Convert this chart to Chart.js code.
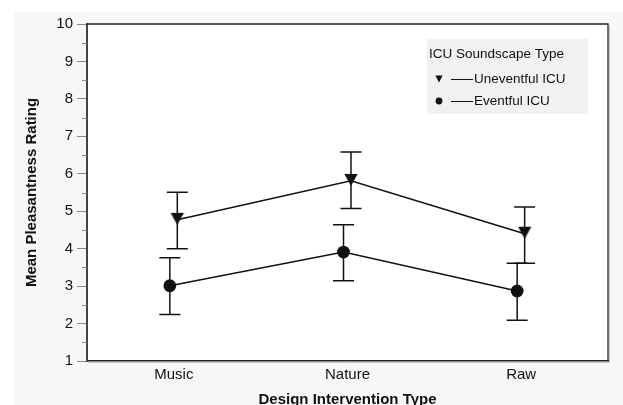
<!DOCTYPE html>
<html>
<head>
<meta charset="utf-8">
<script src="https://cdn.jsdelivr.net/npm/chart.js@4/dist/chart.umd.min.js"></script>
<style>
  html, body { margin: 0; padding: 0; background: #ffffff; overflow: hidden; }
  canvas { display: block; }
</style>
</head>
<body>
<canvas id="chart" width="623" height="405"></canvas>
<script>
// Design intervention categories (x axis)
const categories = ['Music', 'Nature', 'Raw'];

// Uneventful ICU soundscape: means and error-bar limits
const uneventfulMean = [4.77, 5.81, 4.40];
const uneventfulLow  = [4.00, 5.07, 3.61];
const uneventfulHigh = [5.51, 6.58, 5.11];

// Eventful ICU soundscape: means and error-bar limits
const eventfulMean = [3.01, 3.91, 2.87];
const eventfulLow  = [2.24, 3.14, 2.09];
const eventfulHigh = [3.76, 4.64, 3.61];

// Labelled y ticks
const yTickValues = [1, 2, 3, 4, 5, 6, 7, 8, 9, 10];

const FONT = "'Liberation Sans', Arial, Helvetica, sans-serif";
const INK = '#111111';

// Small horizontal dodge so the two series' error bars do not overlap
function toPoints(means, lows, highs, dodge) {
  return means.map((m, i) => ({ x: i + 1 + dodge, y: m, low: lows[i], high: highs[i] }));
}

// Downward triangle marker, flat edge above the data point
function makeTriangle(size, halfWidth, topOffset, apexOffset) {
  const c = document.createElement('canvas');
  c.width = size; c.height = size;
  const g = c.getContext('2d');
  const m = size / 2;
  g.fillStyle = INK;
  g.beginPath();
  g.moveTo(m - halfWidth, m - topOffset);
  g.lineTo(m + halfWidth, m - topOffset);
  g.lineTo(m, m + apexOffset);
  g.closePath();
  g.fill();
  return c;
}
const triangleDown = makeTriangle(16, 6.7, 7, 5);

// Page background, white plot panel
const backdrop = {
  id: 'backdrop',
  beforeDraw(chart) {
    const { ctx, chartArea: a, width, height } = chart;
    ctx.save();
    ctx.fillStyle = '#ffffff';
    ctx.fillRect(0, 0, width, height);
    ctx.fillStyle = '#f7f7f7';
    ctx.fillRect(14, 12, width - 14, height - 12);
    ctx.fillStyle = '#ffffff';
    ctx.fillRect(a.left, a.top, a.right - a.left, a.bottom - a.top);
    ctx.restore();
  }
};

// Vertical error bars with caps, drawn from each point's low/high values
const errorBars = {
  id: 'errorBars',
  beforeDatasetsDraw(chart) {
    const { ctx, scales: { x, y } } = chart;
    ctx.save();
    ctx.strokeStyle = INK;
    ctx.lineWidth = 1.5;
    chart.data.datasets.forEach(ds => {
      ds.data.forEach(p => {
        const px = x.getPixelForValue(p.x);
        const yl = y.getPixelForValue(p.low);
        const yh = y.getPixelForValue(p.high);
        const cap = 10.5;
        ctx.beginPath();
        ctx.moveTo(px, yl); ctx.lineTo(px, yh);
        ctx.moveTo(px - cap, yl); ctx.lineTo(px + cap, yl);
        ctx.moveTo(px - cap, yh); ctx.lineTo(px + cap, yh);
        ctx.stroke();
      });
    });
    ctx.restore();
  }
};

// Minor half-step ticks on the y axis and the closed frame around the plot
const frame = {
  id: 'frame',
  afterDraw(chart) {
    const { ctx, chartArea: a, scales: { y } } = chart;
    ctx.save();
    ctx.strokeStyle = '#8a8a8a';
    ctx.lineWidth = 1;
    for (let v = y.min + 0.5; v < y.max; v += 1) {
      const py = Math.round(y.getPixelForValue(v)) + 0.5;
      ctx.beginPath();
      ctx.moveTo(a.left - 5, py);
      ctx.lineTo(a.left, py);
      ctx.stroke();
    }
    // soft shadow right and below
    ctx.strokeStyle = '#c8c8c8';
    ctx.lineWidth = 1;
    ctx.beginPath();
    ctx.moveTo(a.right + 1.5, a.top + 1);
    ctx.lineTo(a.right + 1.5, a.bottom + 1.5);
    ctx.lineTo(a.left + 1, a.bottom + 1.5);
    ctx.stroke();
    // top and right edges
    ctx.strokeStyle = '#222222';
    ctx.lineWidth = 1.3;
    ctx.beginPath();
    ctx.moveTo(a.left, a.top);
    ctx.lineTo(a.right, a.top);
    ctx.lineTo(a.right, a.bottom);
    ctx.stroke();
    ctx.restore();
  }
};

// Legend panel: marker, short line and series name
const seriesLegend = {
  id: 'seriesLegend',
  afterDraw(chart) {
    const { ctx, chartArea: a } = chart;
    const bx = a.right - 181, by = a.top + 15, bw = 161, bh = 75;
    ctx.save();
    ctx.fillStyle = '#f1f1f1';
    ctx.fillRect(bx, by, bw, bh);
    ctx.fillStyle = INK;
    ctx.font = '13.5px ' + FONT;
    ctx.textBaseline = 'middle';
    ctx.textAlign = 'left';
    ctx.fillText('ICU Soundscape Type', bx + 2, by + 15);
    chart.data.datasets.forEach((ds, i) => {
      const ry = by + 40 + i * 22;
      const mx = bx + 12;
      ctx.fillStyle = INK;
      ctx.beginPath();
      if (ds.label.startsWith('Uneventful')) {
        ctx.moveTo(mx - 3.6, ry - 3.4);
        ctx.lineTo(mx + 3.6, ry - 3.4);
        ctx.lineTo(mx, ry + 3.4);
        ctx.closePath();
      } else {
        ctx.arc(mx, ry, 3.4, 0, Math.PI * 2);
      }
      ctx.fill();
      ctx.strokeStyle = INK;
      ctx.lineWidth = 1;
      ctx.beginPath();
      ctx.moveTo(bx + 24, ry + 0.5);
      ctx.lineTo(bx + 46, ry + 0.5);
      ctx.stroke();
      ctx.fillText(ds.label, bx + 47, ry + 0.5);
    });
    ctx.restore();
  }
};

new Chart(document.getElementById('chart'), {
  type: 'line',
  data: {
    datasets: [
      {
        label: 'Uneventful ICU',
        data: toPoints(uneventfulMean, uneventfulLow, uneventfulHigh, 0.02),
        borderColor: INK,
        borderWidth: 1.5,
        pointStyle: triangleDown,
        pointRadius: 7.5,
        pointHoverRadius: 7.5,
        pointBackgroundColor: INK,
        pointBorderColor: INK,
        pointBorderWidth: 0,
        fill: false,
        tension: 0
      },
      {
        label: 'Eventful ICU',
        data: toPoints(eventfulMean, eventfulLow, eventfulHigh, -0.023),
        borderColor: INK,
        borderWidth: 1.5,
        pointStyle: 'circle',
        pointRadius: 6.4,
        pointHoverRadius: 6.4,
        pointBackgroundColor: INK,
        pointBorderColor: INK,
        pointBorderWidth: 0,
        fill: false,
        tension: 0
      }
    ]
  },
  options: {
    responsive: false,
    animation: false,
    devicePixelRatio: 1,
    layout: { padding: { top: 24, right: 15, left: 0, bottom: 0 } },
    plugins: {
      legend: { display: false },
      tooltip: { enabled: false }
    },
    scales: {
      x: {
        type: 'linear',
        min: 0.5,
        max: 3.5,
        afterBuildTicks(scale) {
          scale.ticks = categories.map((_, i) => ({ value: i + 1 }));
        },
        afterFit(scale) { scale.height = 44; },
        grid: { display: false, drawTicks: false },
        border: { display: true, color: '#222222', width: 1.5 },
        ticks: {
          callback: v => categories[v - 1] || '',
          color: INK,
          padding: 5,
          font: { family: FONT, size: 15 }
        },
        title: {
          display: true,
          text: 'Design Intervention Type',
          color: INK,
          padding: { top: 0, bottom: -3.5 },
          font: { family: FONT, size: 15, weight: 'bold' }
        }
      },
      y: {
        type: 'linear',
        min: 1,
        max: 10,
        afterBuildTicks(scale) {
          scale.ticks = yTickValues.map(v => ({ value: v }));
        },
        afterFit(scale) { scale.width = 87; },
        grid: { drawOnChartArea: false, tickLength: 10, tickColor: '#8a8a8a', tickWidth: 1 },
        border: { display: true, color: '#444444', width: 2 },
        ticks: {
          color: INK,
          padding: 4,
          font: { family: FONT, size: 15 }
        },
        title: {
          display: true,
          text: 'Mean Pleasantness Rating',
          color: INK,
          padding: { top: 23, bottom: 0 },
          font: { family: FONT, size: 15, weight: 'bold' }
        }
      }
    }
  },
  plugins: [backdrop, errorBars, frame, seriesLegend]
});
</script>
</body>
</html>
